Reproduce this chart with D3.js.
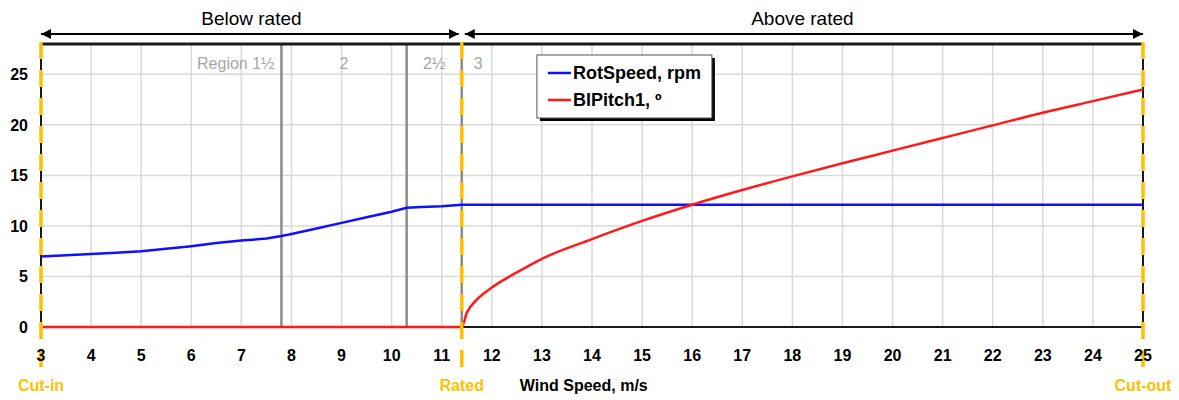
<!DOCTYPE html>
<html>
<head>
<meta charset="utf-8">
<script src="https://cdn.jsdelivr.net/npm/d3@7"></script>
<style>
  body { margin: 0; background: #fff; }
  text { font-family: "Liberation Sans", Arial, sans-serif; }
</style>
</head>
<body>
<div id="chart"></div>
<script>
// wind speed ticks and y ticks
const xTicks = [3, 4, 5, 6, 7, 8, 9, 10, 11, 12, 13, 14, 15, 16, 17, 18, 19, 20, 21, 22, 23, 24, 25];
const yTicks = [0, 5, 10, 15, 20, 25];

// operating points
const cutIn = 3, rated = 11.4, cutOut = 25;
const regionBounds = [7.8, 10.3];
const regionNames = ["Region 1½", "2", "2½", "3"];

// rotor speed, rpm
const rotWind  = [3, 3.5, 4, 4.5, 5, 5.5, 6, 6.5, 7, 7.5, 7.8, 8, 8.5, 9, 9.5, 10, 10.3, 10.6, 11, 11.4, 12, 25];
const rotSpeed = [6.97, 7.1, 7.22, 7.35, 7.5, 7.75, 8.0, 8.3, 8.55, 8.75, 9.0, 9.2, 9.75, 10.3, 10.85, 11.4, 11.8, 11.88, 11.95, 12.1, 12.1, 12.1];

// blade pitch, deg
const pitchWind = [3, 11.4, 11.5, 11.7, 12, 12.5, 13, 14, 15, 16, 17, 18, 19, 20, 21, 22, 23, 24, 25];
const pitch     = [0, 0, 1.4, 2.7, 3.9, 5.4, 6.75, 8.7, 10.5, 12.1, 13.55, 14.9, 16.2, 17.45, 18.7, 19.95, 21.2, 22.35, 23.5];

const W = 1179, H = 400;
const margin = {top: 44, right: 36, bottom: 73, left: 41};
const width = W - margin.left - margin.right;
const height = H - margin.top - margin.bottom;

const orange = "#ffc000";

const svg = d3.select("#chart").append("svg")
    .attr("width", W)
    .attr("height", H);

const g = svg.append("g")
    .attr("transform", `translate(${margin.left}, ${margin.top})`);

const x = d3.scaleLinear().domain([3, 25]).range([0, width]);
const y = d3.scaleLinear().domain([0, 28]).range([height, 0]);

// grid
g.append("g")
  .selectAll("line")
  .data(xTicks.slice(1, -1))
  .join("line")
    .attr("x1", d => x(d)).attr("x2", d => x(d))
    .attr("y1", 0).attr("y2", height)
    .attr("stroke", "#d9d9d9").attr("stroke-width", 1.5);

g.append("g")
  .selectAll("line")
  .data(yTicks.slice(1))
  .join("line")
    .attr("x1", 0).attr("x2", width)
    .attr("y1", d => y(d)).attr("y2", d => y(d))
    .attr("stroke", "#d9d9d9").attr("stroke-width", 1.5);

// region boundaries
g.append("g")
  .selectAll("line")
  .data(regionBounds.concat([rated]))
  .join("line")
    .attr("x1", d => x(d)).attr("x2", d => x(d))
    .attr("y1", 0).attr("y2", height)
    .attr("stroke", "#8c8c8c").attr("stroke-width", 2.5);

// plot frame
g.append("line").attr("x1", 0).attr("x2", width).attr("y1", 0).attr("y2", 0)
  .attr("stroke", "#1a1a1a").attr("stroke-width", 3);
g.append("line").attr("x1", 0).attr("x2", width).attr("y1", height).attr("y2", height)
  .attr("stroke", "#1a1a1a").attr("stroke-width", 2);
g.append("line").attr("x1", 0).attr("x2", 0).attr("y1", 0).attr("y2", height)
  .attr("stroke", "#1a1a1a").attr("stroke-width", 2);
g.append("line").attr("x1", width).attr("x2", width).attr("y1", 0).attr("y2", height)
  .attr("stroke", "#1a1a1a").attr("stroke-width", 2);

// region labels
const regionLabels = g.append("g")
    .attr("font-size", 16)
    .attr("fill", "#a6a6a6");
regionLabels.append("text").attr("x", x(regionBounds[0]) - 7).attr("y", 25)
  .attr("text-anchor", "end").text(regionNames[0]);
regionLabels.append("text").attr("x", (x(regionBounds[0]) + x(regionBounds[1])) / 2).attr("y", 25)
  .attr("text-anchor", "middle").text(regionNames[1]);
regionLabels.append("text").attr("x", (x(regionBounds[1]) + x(rated)) / 2).attr("y", 25)
  .attr("text-anchor", "middle").text(regionNames[2]);
regionLabels.append("text").attr("x", x(rated) + 12).attr("y", 25)
  .attr("text-anchor", "start").text(regionNames[3]);

// lines
const line = d3.line().x(d => x(d[0])).y(d => y(d[1]));

g.append("path")
  .datum(rotWind.map((w, i) => [w, rotSpeed[i]]))
  .attr("d", line)
  .attr("fill", "none")
  .attr("stroke", "#1010ff")
  .attr("stroke-width", 2.5);

g.append("path")
  .datum(pitchWind.map((w, i) => [w, pitch[i]]))
  .attr("d", line.curve(d3.curveMonotoneX))
  .attr("fill", "none")
  .attr("stroke", "#ff1a1a")
  .attr("stroke-width", 2.5);

// cut-in / rated / cut-out dashed markers
g.append("g")
  .selectAll("line")
  .data([cutIn, rated, cutOut])
  .join("line")
    .attr("x1", d => x(d)).attr("x2", d => x(d))
    .attr("y1", -2).attr("y2", height + 46)
    .attr("stroke", orange)
    .attr("stroke-width", 3.5)
    .attr("stroke-dasharray", "17,11");

// axes tick labels
g.append("g")
  .attr("font-size", 16).attr("font-weight", "bold")
  .selectAll("text")
  .data(xTicks)
  .join("text")
    .attr("x", d => x(d))
    .attr("y", height + 34)
    .attr("text-anchor", "middle")
    .text(d => d);

g.append("g")
  .attr("font-size", 16).attr("font-weight", "bold")
  .selectAll("text")
  .data(yTicks)
  .join("text")
    .attr("x", -13)
    .attr("y", d => y(d) + 6)
    .attr("text-anchor", "end")
    .text(d => d);

// x-axis title
g.append("text")
  .attr("x", x(12.6) - 2)
  .attr("y", height + 64)
  .attr("font-size", 16).attr("font-weight", "bold")
  .text("Wind Speed, m/s");

// operating point labels
g.append("g")
  .attr("font-size", 16).attr("font-weight", "bold").attr("fill", orange)
  .selectAll("text")
  .data([[cutIn, "Cut-in"], [rated, "Rated"], [cutOut, "Cut-out"]])
  .join("text")
    .attr("x", d => x(d[0]))
    .attr("y", height + 64)
    .attr("text-anchor", "middle")
    .text(d => d[1]);

// top arrows
const defs = svg.append("defs");
defs.append("marker")
    .attr("id", "arr")
    .attr("viewBox", "0 0 10 10")
    .attr("refX", 10).attr("refY", 5)
    .attr("markerWidth", 5).attr("markerHeight", 5)
    .attr("markerUnits", "strokeWidth")
    .attr("orient", "auto-start-reverse")
  .append("path")
    .attr("d", "M0,0 L10,5 L0,10 Z")
    .attr("fill", "#000");

const arrows = [
  {from: cutIn, to: rated, label: "Below rated", pad0: 0, pad1: -3},
  {from: rated, to: cutOut, label: "Above rated", pad0: 3, pad1: 0}
];
arrows.forEach(a => {
  g.append("line")
    .attr("x1", x(a.from) + a.pad0).attr("x2", x(a.to) + a.pad1)
    .attr("y1", -10).attr("y2", -10)
    .attr("stroke", "#000").attr("stroke-width", 2)
    .attr("marker-start", "url(#arr)")
    .attr("marker-end", "url(#arr)");
  g.append("text")
    .attr("x", (x(a.from) + x(a.to)) / 2)
    .attr("y", -19)
    .attr("text-anchor", "middle")
    .attr("font-family", "Open Sans, sans-serif")
    .attr("font-size", 19)
    .text(a.label);
});

// legend
const legend = g.append("g")
    .attr("transform", `translate(${x(12.9) - margin.left + 41}, 11)`);
legend.append("rect")
    .attr("x", 3).attr("y", 3).attr("width", 175).attr("height", 63)
    .attr("fill", "#000");
legend.append("rect")
    .attr("width", 175).attr("height", 63)
    .attr("fill", "#fff").attr("stroke", "#555").attr("stroke-width", 1);

const legendItems = [["RotSpeed, rpm", "#1010ff"], ["BlPitch1, º", "#ff1a1a"]];
const entry = legend.selectAll("g.item")
  .data(legendItems)
  .join("g")
    .attr("class", "item")
    .attr("transform", (d, i) => `translate(0, ${18 + i * 27})`);
entry.append("line")
    .attr("x1", 11).attr("x2", 34)
    .attr("stroke", d => d[1]).attr("stroke-width", 2.5);
entry.append("text")
    .attr("x", 36).attr("y", 6)
    .attr("font-size", 18).attr("font-weight", "bold")
    .text(d => d[0]);
</script>
</body>
</html>
